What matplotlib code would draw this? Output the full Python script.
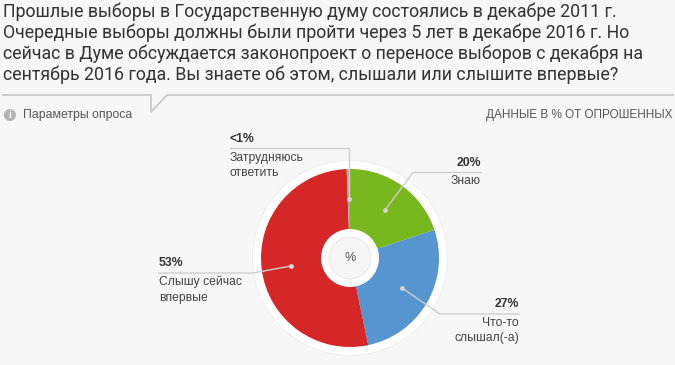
import matplotlib
matplotlib.use('Agg')
import matplotlib.pyplot as plt
from matplotlib.patches import Circle

H = 365
title_lines = ['Прошлые выборы в Государственную думу состоялись в декабре 2011 г.',
               'Очередные выборы должны были пройти через 5 лет в декабре 2016 г. Но',
               'сейчас в Думе обсуждается законопроект о переносе выборов с декабря на',
               'сентябрь 2016 года. Вы знаете об этом, слышали или слышите впервые?']
# порядок по часовой стрелке от верхней точки
categories = ['Знаю', 'Что-то\nслышал(-а)', 'Слышу сейчас\nвпервые', 'Затрудняюсь\nответить']
values = [20, 27, 53, 0.6]
value_labels = ['20%', '27%', '53%', '<1%']
colors = ['#78b71d', '#5795d0', '#d62728', '#a9a9a9']

fig = plt.figure(figsize=(6.75, 3.65), dpi=100, facecolor='#f7f7f7')
ax = fig.add_axes([0, 0, 1, 1])

def yy(y):
    return H - y

def px(size):
    return size * 0.72

# кольца вокруг диаграммы
ax.add_patch(Circle((350, yy(258)), 98, fc='#eeeeee', ec='none', zorder=1))
ax.add_patch(Circle((350, yy(258)), 97, fc='white', ec='none', zorder=1))
ax.pie(values, colors=colors, startangle=90, counterclock=False,
       center=(350, yy(258)), radius=89, frame=True,
       wedgeprops={'zorder': 2, 'linewidth': 0})
ax.add_patch(Circle((350, yy(258)), 29, fc='white', ec='none', zorder=3))
ax.add_patch(Circle((350, yy(258)), 21, fc='#f6f6f6', ec='#ececec', lw=0.8, zorder=4))
ax.text(350.5, yy(258), '%', ha='center', va='center', color='#555555',
        fontsize=px(12.5), family='Liberation Sans', zorder=5)

ax.set_xlim(0, 675)
ax.set_ylim(0, H)
ax.set_aspect('auto')
ax.axis('off')

for i, line in enumerate(title_lines):
    ax.text(3, yy(17 + i * 21), line, ha='left', va='baseline', color='#333333',
            fontsize=px(17.7), family='Roboto')

# линия с выступом под вопросом
ax.plot([3, 151, 151, 167, 673], [yy(95), yy(95), yy(112), yy(95), yy(95)],
        color='#cccccc', lw=1.4, zorder=1, solid_joinstyle='miter')

ax.add_patch(Circle((10, yy(115)), 6, fc='#b3b3b3', ec='none'))
ax.text(10, yy(115), 'i', ha='center', va='center', color='white', fontsize=px(10),
        fontweight='bold', family='Liberation Sans')
ax.text(23, yy(115), 'Параметры опроса', ha='left', va='center', color='#555555',
        fontsize=px(12.3), family='Liberation Sans')
ax.text(673, yy(115), 'ДАННЫЕ В % ОТ ОПРОШЕННЫХ', ha='right', va='center', color='#555555',
        fontsize=px(11.7), family='Liberation Sans')

# подписи: выноска, процент, название
leaders = [[(481, 172.5), (413, 172.5), (385, 210)],
           [(519, 314), (440, 314), (402, 288)],
           [(159, 273), (253, 273), (291, 266)],
           [(230, 148), (349, 148), (349, 199)]]
label_pos = [(481, 'right', 163, 181), (519, 'right', 304, 323),
             (159, 'left', 262.5, 282), (230, 'left', 139, 158)]

for i in range(len(values)):
    pts = leaders[i]
    ax.plot([p[0] for p in pts], [yy(p[1]) for p in pts], color='#cfcfcf', lw=1.0, zorder=6)
    ax.plot(pts[-1][0], yy(pts[-1][1]), 'o', color='#d5d5d5', ms=3.5, mew=0, zorder=7)
    x, ha, y1, y2 = label_pos[i]
    ax.text(x, yy(y1), value_labels[i], ha=ha, va='center', color='#333333',
            fontsize=px(12.3), fontweight='bold', family='Liberation Sans', zorder=8)
    for j, part in enumerate(categories[i].split('\n')):
        ax.text(x, yy(y2 + j * 15.5), part, ha=ha, va='center', color='#444444',
                fontsize=px(12.1), family='Liberation Sans', zorder=8)

fig.savefig('out.png', dpi=100, facecolor=fig.get_facecolor())
